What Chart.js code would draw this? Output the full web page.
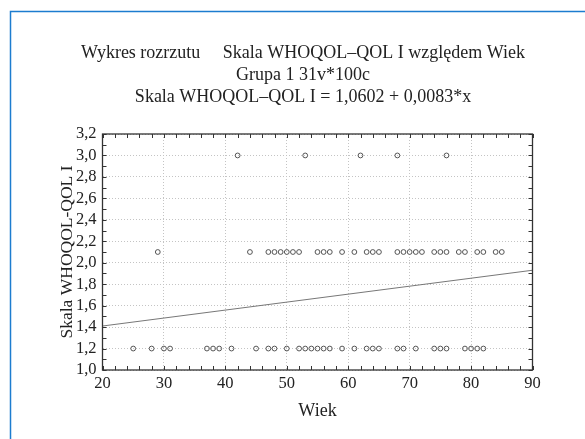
<!DOCTYPE html>
<html><head><meta charset="utf-8">
<script src="https://cdn.jsdelivr.net/npm/chart.js@4/dist/chart.umd.min.js"></script>
<style>html,body{margin:0;padding:0;background:#fff}#wrap{position:relative;width:585px;height:439px}</style>
</head><body><div id="wrap"><canvas id="c" width="585" height="439"></canvas></div>
<script>
const titleLines = ['Wykres rozrzutu     Skala WHOQOL–QOL I względem Wiek', 'Grupa 1 31v*100c', 'Skala WHOQOL–QOL I = 1,0602 + 0,0083*x'];
const xTitle = 'Wiek';
const yTitle = 'Skala WHOQOL-QOL I';
const xTicks = [20, 30, 40, 50, 60, 70, 80, 90];
const yTicks = [1.0, 1.2, 1.4, 1.6, 1.8, 2.0, 2.2, 2.4, 2.6, 2.8, 3.0, 3.2];
// ages of respondents at each score level
const ages12 = [25, 28, 30, 31, 37, 38, 39, 41, 45, 47, 48, 50, 52, 53, 54, 55, 56, 57, 59, 61, 63, 64, 65, 68, 69, 71, 74, 75, 76, 79, 80, 81, 82];
const ages21 = [29, 44, 47, 48, 49, 50, 51, 52, 55, 56, 57, 59, 61, 63, 64, 65, 68, 69, 70, 71, 72, 74, 75, 76, 78, 79, 81, 82, 84, 85];
const ages30 = [42, 53, 62, 68, 76];
const scores = [1.2, 2.1, 3.0];
// fitted line as drawn
const fitX = [20, 90];
const fitY = [1.41, 1.93];

const pts = [];
[ages12, ages21, ages30].forEach((arr, i) => arr.forEach(a => pts.push({x: a, y: scores[i]})));
const fitPts = fitX.map((x, i) => ({x: x, y: fitY[i]}));

const FONT = 'Liberation Serif';
const boxPlugin = {
  id: 'boxPlugin',
  beforeDraw(chart) {
    const ctx = chart.ctx;
    ctx.save();
    ctx.fillStyle = '#fff';
    ctx.fillRect(0, 0, chart.width, chart.height);
    ctx.strokeStyle = '#1c7ccf';
    ctx.lineWidth = 1.5;
    ctx.beginPath();
    ctx.moveTo(10.5, 445); ctx.lineTo(10.5, 11.5); ctx.lineTo(590, 11.5);
    ctx.stroke();
    ctx.restore();
  },
  afterDatasetsDraw(chart) {
    const ctx = chart.ctx, a = chart.chartArea;
    const xs = chart.scales.x, ys = chart.scales.y;
    ctx.save();
    ctx.strokeStyle = '#333';
    ctx.lineWidth = 1.3;
    ctx.strokeRect(a.left, a.top, a.right - a.left, a.bottom - a.top);
    ctx.lineWidth = 1;
    ctx.beginPath();
    for (let v = xTicks[0]; v <= xTicks[xTicks.length - 1] + 0.001; v += 2) {
      const px = Math.round(xs.getPixelForValue(v)) + 0.5;
      ctx.moveTo(px, a.bottom); ctx.lineTo(px, a.bottom - 4);
      ctx.moveTo(px, a.top); ctx.lineTo(px, a.top + 4);
    }
    for (let k = 0; k <= 22; k++) {
      const v = yTicks[0] + k * 0.1;
      const py = Math.round(ys.getPixelForValue(v)) + 0.5;
      ctx.moveTo(a.left, py); ctx.lineTo(a.left + 4, py);
      ctx.moveTo(a.right, py); ctx.lineTo(a.right - 4, py);
    }
    ctx.stroke();
    ctx.restore();
  }
};

new Chart(document.getElementById('c'), {
  type: 'scatter',
  data: {
    datasets: [
      {
        type: 'scatter', data: pts,
        pointStyle: 'circle', pointRadius: 2.4, pointBorderWidth: 1,
        borderColor: '#555', backgroundColor: 'rgba(255,255,255,0)',
        pointBorderColor: '#555', pointBackgroundColor: 'rgba(255,255,255,0)'
      },
      {
        type: 'line', data: fitPts, showLine: true,
        borderColor: '#777', borderWidth: 1, pointRadius: 0, fill: false
      }
    ]
  },
  options: {
    responsive: false, devicePixelRatio: 1, animation: false,
    layout: {padding: {left: 73.5, right: 52.5, top: 0, bottom: 0}},
    plugins: {
      legend: {display: false}, tooltip: {enabled: false},
      title: {
        display: true, text: titleLines, color: '#222',
        font: {family: FONT, size: 18, weight: 'normal', lineHeight: 22 / 18},
        padding: {top: 42, bottom: 26}
      }
    },
    scales: {
      x: {
        type: 'linear', min: xTicks[0], max: xTicks[xTicks.length - 1],
        afterFit(s) { s.height = 69; },
        afterBuildTicks(s) { s.ticks = xTicks.map(v => ({value: v})); },
        ticks: {color: '#222', font: {family: FONT, size: 16.5}, padding: 4, autoSkip: false, maxRotation: 0},
        grid: {color: '#c4c4c4', drawTicks: false, lineWidth: 1},
        border: {display: false, dash: [1, 2]},
        title: {display: true, text: xTitle, color: '#222', font: {family: FONT, size: 18}, padding: {top: 0, bottom: 17}}
      },
      y: {
        type: 'linear', min: yTicks[0], max: yTicks[yTicks.length - 1],
        afterFit(s) { s.width = 29; },
        afterBuildTicks(s) { s.ticks = yTicks.map(v => ({value: v})); },
        ticks: {color: '#222', font: {family: FONT, size: 16.5}, padding: 6, autoSkip: false,
          callback: v => Number(v).toFixed(1).replace('.', ',')},
        grid: {color: '#c4c4c4', drawTicks: false, lineWidth: 1},
        border: {display: false, dash: [1, 2]},
        title: {display: true, text: yTitle, color: '#222', font: {family: FONT, size: 17.5}, padding: {top: -17, bottom: 0}}
      }
    }
  },
  plugins: [boxPlugin]
});
</script></body></html>
